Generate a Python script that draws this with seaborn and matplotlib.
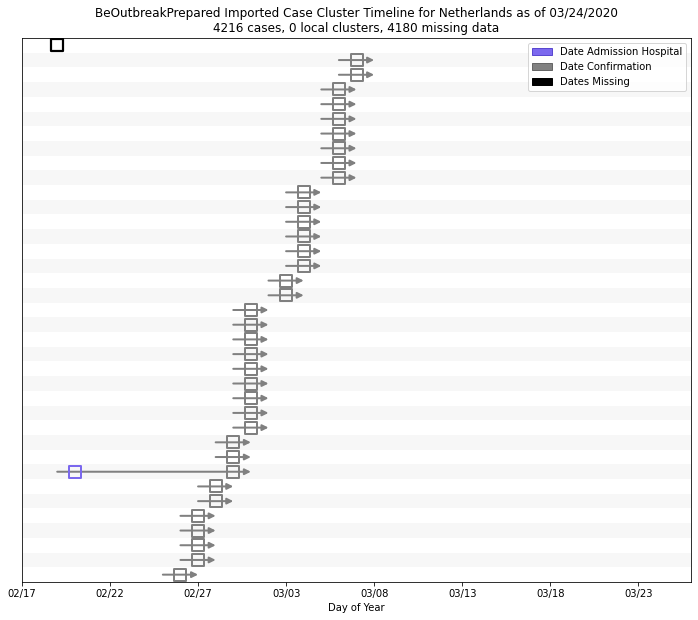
import matplotlib
matplotlib.use("Agg")
import matplotlib.pyplot as plt
import matplotlib.dates as mdates
import matplotlib.patches as mpatches
import numpy as np
import pandas as pd
import seaborn as sns

# ---- data (row 0 = bottom) ----
confirm_dates = (["2020-02-26"] + ["2020-02-27"] * 4 + ["2020-02-28"] * 2 +
                 ["2020-02-29"] * 3 + ["2020-03-01"] * 9 + ["2020-03-03"] * 2 +
                 ["2020-03-04"] * 6 + ["2020-03-06"] * 7 + ["2020-03-07"] * 2)
admission_rows = [7]
admission_dates = ["2020-02-20"]
missing_date = "2020-02-19"

title = ("BeOutbreakPrepared Imported Case Cluster Timeline for Netherlands as of 03/24/2020\n"
         "4216 cases, 0 local clusters, 4180 missing data")
legend_labels = ["Date Admission Hospital", "Date Confirmation", "Dates Missing"]
tick_start, tick_end = "2020-02-17", "2020-03-26"

# ---- build tables ----
conf = pd.DataFrame({"row": np.arange(len(confirm_dates)),
                     "date": pd.to_datetime(confirm_dates), "kind": "conf"})
adm = pd.DataFrame({"row": admission_rows,
                    "date": pd.to_datetime(admission_dates), "kind": "adm"})
miss_row = len(confirm_dates)
miss = pd.DataFrame({"row": [miss_row], "date": pd.to_datetime([missing_date]),
                     "kind": "miss"})
n_rows = miss_row + 1

fig = plt.figure(figsize=(698 / 72, 620 / 72), dpi=72)
ax = fig.add_axes([22 / 698, 1 - 582 / 620, (691 - 22) / 698, (582 - 38) / 620])

for i in range(n_rows):
    if i % 2 == 1:
        ax.axhspan(i - 0.5, i + 0.5, color="#f7f7f7", zorder=0, lw=0)

# spans with arrows
allpts = pd.concat([conf, adm])
one = pd.Timedelta(days=1)
for r, g in allpts.groupby("row"):
    start = mdates.date2num(g["date"].min() - one)
    end = mdates.date2num(g["date"].max() + one)
    ax.annotate("", xy=(end, r), xytext=(start, r),
                arrowprops=dict(arrowstyle="-|>", color="gray", lw=2,
                                shrinkA=0, shrinkB=0, mutation_scale=12),
                zorder=2)

sns.scatterplot(data=conf, x="date", y="row", marker="s", s=12 ** 2,
                facecolor="none", edgecolor="gray", linewidth=2, ax=ax, zorder=3)
sns.scatterplot(data=adm, x="date", y="row", marker="s", s=12 ** 2,
                facecolor="none", edgecolor="mediumslateblue", linewidth=2, ax=ax, zorder=3)
sns.scatterplot(data=miss, x="date", y="row", marker="s", s=12 ** 2,
                facecolor="none", edgecolor="black", linewidth=2.2, ax=ax, zorder=3)

ax.set_xlim(pd.Timestamp(tick_start), pd.Timestamp(tick_end))
ax.set_ylim(-0.5, n_rows - 0.5)
ticks = pd.date_range(tick_start, tick_end, freq="5D")
ax.set_xticks(ticks)
ax.xaxis.set_major_formatter(mdates.DateFormatter("%m/%d"))
ax.set_yticks([])
ax.set_ylabel("")
ax.set_xlabel("Day of Year", fontsize=10)
ax.tick_params(axis="x", labelsize=10)
ax.set_title(title, fontsize=12)

handles = [mpatches.Patch(facecolor="#7b68ee", edgecolor="#5a48d0", label=legend_labels[0]),
           mpatches.Patch(facecolor="gray", edgecolor="#666666", label=legend_labels[1]),
           mpatches.Patch(facecolor="black", edgecolor="black", label=legend_labels[2])]
ax.legend(handles=handles, loc="upper right", fontsize=10)

fig.savefig("out.png", dpi=72)
